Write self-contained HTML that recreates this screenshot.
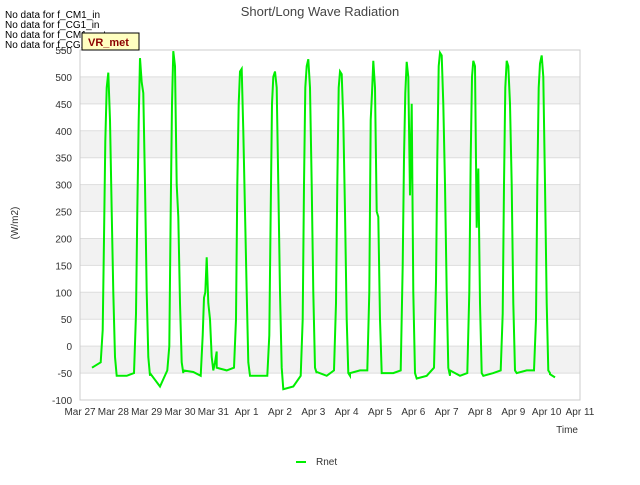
<!DOCTYPE html>
<html><head><meta charset="utf-8"><style>
body{margin:0;background:#fff;font-family:"Liberation Sans",sans-serif;}
svg text{font-family:"Liberation Sans",sans-serif;}
</style></head><body>
<svg id="chart" width="640" height="480" viewBox="0 0 640 480" xmlns="http://www.w3.org/2000/svg">
<rect width="640" height="480" fill="#fff"/>
<g id="bands"></g><g id="grid"></g>
<rect x="80" y="50" width="500" height="350" fill="none" stroke="#ccc"/>
<g id="yticks"></g><g id="xticks"></g>
<path id="line" fill="none" stroke="#00ee00" stroke-width="2"/>
<text x="320" y="16" text-anchor="middle" font-size="13" fill="#444">Short/Long Wave Radiation</text>
<text transform="translate(18,223) rotate(-90)" text-anchor="middle" font-size="10" fill="#333">(W/m2)</text>
<text x="578" y="433" text-anchor="end" font-size="10" fill="#333">Time</text>
<g font-size="10" fill="#000">
<text x="5" y="18">No data for f_CM1_in</text>
<text x="5" y="28">No data for f_CG1_in</text>
<text x="5" y="38">No data for f_CM1_out</text>
<text x="5" y="48">No data for f_CG1_out</text>
</g>
<g>
<rect x="82" y="33" width="57" height="17" fill="#ffffc0" stroke="#000"/>
<text x="88" y="46" font-size="11" font-weight="bold" fill="#8b0000">VR_met</text>
</g>
<g>
<line x1="296" y1="462" x2="306" y2="462" stroke="#00ee00" stroke-width="2"/>
<text x="316" y="465" font-size="10" fill="#333">Rnet</text>
</g>
</svg>
<script>
const yTicks=[-100,-50,0,50,100,150,200,250,300,350,400,450,500,550];
const xLabels=["Mar 27","Mar 28","Mar 29","Mar 30","Mar 31","Apr 1","Apr 2","Apr 3","Apr 4","Apr 5","Apr 6","Apr 7","Apr 8","Apr 9","Apr 10","Apr 11"];
const dayFrac=[0.1,0.4,0.62,0.68,0.72,0.76,0.80,0.85,0.90,0.95,1.0,1.05,1.1];
const day0=[null,-40,-30,30,200,380,480,508,420,250,100,-20,-55];
const day1=[-55,-55,-50,60,250,420,535,490,470,300,100,-20,-55];
const day2=[-50,-75,-45,0,250,450,548,520,300,240,80,-30,-50];
const day3=[-45,-48,-55,20,90,100,165,80,50,-20,-45,-30,-10];
const day4=[-40,-45,-40,50,300,450,510,515,400,250,100,-30,-55];
const day5=[-55,-55,-55,20,250,450,500,510,480,300,100,-40,-80];
const day6=[-80,-75,-55,50,300,480,520,533,480,300,100,-40,-50];
const day7=[-48,-55,-45,80,300,480,510,505,420,250,50,-50,-55];
const day8=[-50,-45,-45,100,420,470,530,480,250,240,50,-50,-50];
const day9=[-50,-50,-45,150,350,470,528,500,280,450,100,-50,-60];
const day10=[-60,-55,-40,120,350,520,545,540,450,300,100,-40,-55];
const day11=[-45,-55,-50,100,350,500,530,520,220,330,80,-50,-55];
const day12=[-55,-50,-45,60,300,480,530,520,450,300,80,-45,-50];
const day13=[-50,-45,-45,50,300,480,525,540,500,300,80,-45,-50];
const day14=[-52,-58];
const days=[day0,day1,day2,day3,day4,day5,day6,day7,day8,day9,day10,day11,day12,day13,day14];
const X0=80,X1=580,Y0=400,Y1=50,YMIN=-100,YMAX=550;
function xs(d){return X0+(X1-X0)*d/15;}
function ys(v){return Y0-(Y0-Y1)*(v-YMIN)/(YMAX-YMIN);}
const NS="http://www.w3.org/2000/svg";
const bands=document.getElementById('bands'),grid=document.getElementById('grid'),yt=document.getElementById('yticks'),xt=document.getElementById('xticks');
for(let v=-50;v<550;v+=100){const r=document.createElementNS(NS,'rect');


r.setAttribute('x',X0);r.setAttribute('width',X1-X0);r.setAttribute('y',ys(v+50));r.setAttribute('height',ys(v)-ys(v+50));r.setAttribute('fill','#f2f2f2');bands.appendChild(r);}
yTicks.forEach(v=>{const l=document.createElementNS(NS,'line');


l.setAttribute('x1',X0);l.setAttribute('x2',X1);l.setAttribute('y1',ys(v));l.setAttribute('y2',ys(v));l.setAttribute('stroke','#ddd');grid.appendChild(l);
const t=document.createElementNS(NS,'text');


t.setAttribute('x',72);t.setAttribute('y',ys(v)+4);t.setAttribute('text-anchor','end');t.setAttribute('font-size','10');t.setAttribute('fill','#333');t.textContent=v;yt.appendChild(t);});
xLabels.forEach((s,i)=>{const t=document.createElementNS(NS,'text');


t.setAttribute('x',xs(i));t.setAttribute('y',415);t.setAttribute('text-anchor','middle');t.setAttribute('font-size','10');t.setAttribute('fill','#333');t.textContent=s;xt.appendChild(t);});
let d='';
days.forEach((arr,i)=>{arr.forEach((v,j)=>{if(v===null)return;let t=i+dayFrac[j];if(i===0&&j===1)t=0.36;
if(i===14)t=14+(j===0?0.1:0.25);
d+=(d?'L':'M')+xs(t).toFixed(1)+','+ys(v).toFixed(1);});});
document.getElementById('line').setAttribute('d',d);
</script>
</body></html>
